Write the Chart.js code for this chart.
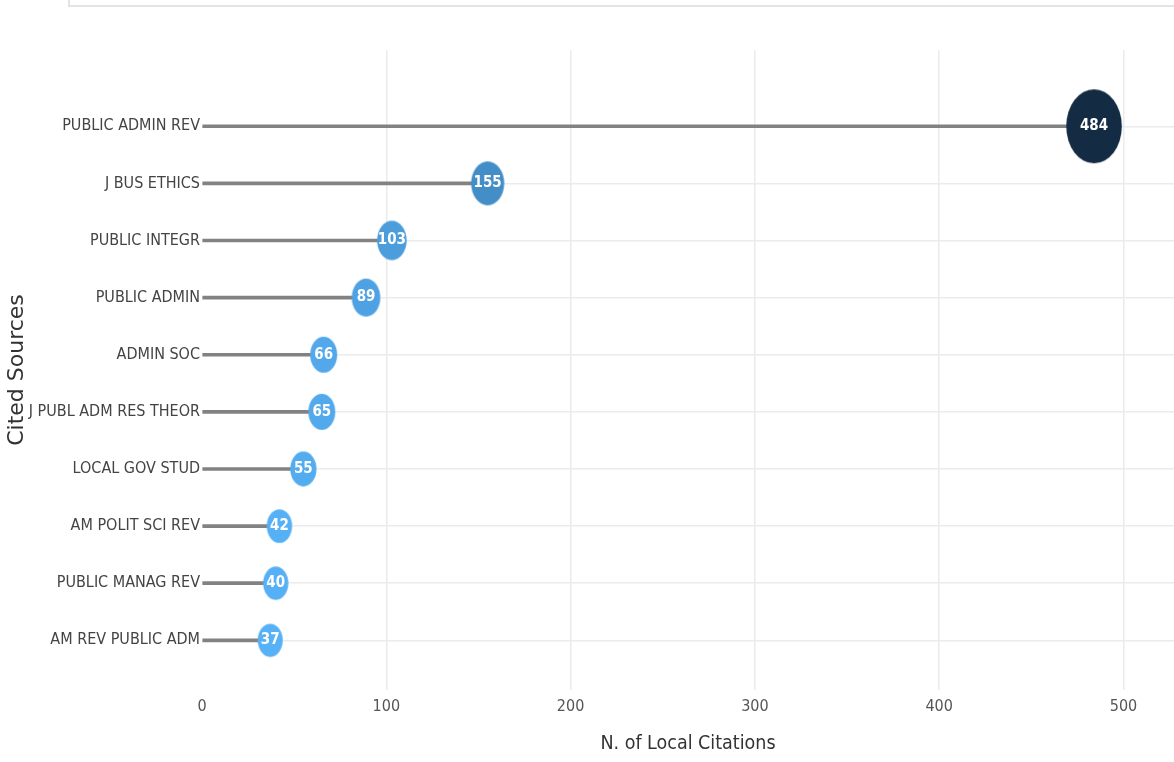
<!DOCTYPE html>
<html lang="en">
<head>
    <meta charset="UTF-8" />
    <title>Most Local Cited Sources</title>
    <script src="https://cdn.jsdelivr.net/npm/chart.js"></script>
    <style>
        html, body { margin: 0; padding: 0; background: #fff; overflow: hidden; }
        .topbox { position: absolute; left: 68px; top: -10px; width: 1200px; height: 13px; border: 2px solid #e4e4e4; }
        .wrap { position: absolute; left: 0; top: 0; width: 1174px; height: 762px; }
    </style>
</head>
<body>
    <div class="topbox"></div>
    <div class="wrap"><canvas id="citesChart"></canvas></div>

    <script>
        // data
        const sources = ['PUBLIC ADMIN REV', 'J BUS ETHICS', 'PUBLIC INTEGR', 'PUBLIC ADMIN', 'ADMIN SOC',
                         'J PUBL ADM RES THEOR', 'LOCAL GOV STUD', 'AM POLIT SCI REV', 'PUBLIC MANAG REV', 'AM REV PUBLIC ADM'];
        const citations = [484, 155, 103, 89, 66, 65, 55, 42, 40, 37];
        const xTickValues = [0, 100, 200, 300, 400, 500];

        const narrow = "'Liberation Sans Narrow', 'DejaVu Sans Condensed', 'Arial Narrow', sans-serif";

        const vMin = Math.min(...citations), vMax = Math.max(...citations);

        // light blue (low) -> dark navy (high)
        function shade(v) {
            const t = (v - vMin) / (vMax - vMin);
            const lo = [86, 177, 247], hi = [19, 43, 67];
            const c = lo.map((a, k) => Math.round(a + (hi[k] - a) * t));
            return 'rgb(' + c.join(',') + ')';
        }

        // ellipse markers, growing with the value
        function ellipse(v) {
            const rx = 12.5 + 0.0342 * (v - vMin);
            const ry = rx * 1.33;
            const c = document.createElement('canvas');
            c.width = Math.ceil(rx * 2) + 2;
            c.height = Math.ceil(ry * 2) + 2;
            const g = c.getContext('2d');
            g.fillStyle = shade(v);
            g.beginPath();
            g.ellipse(c.width / 2, c.height / 2, rx, ry, 0, 0, Math.PI * 2);
            g.fill();
            return c;
        }

        const points = citations.map((v, i) => ({ x: v, y: i }));

        // white value inside each marker
        const valueLabels = {
            id: 'valueLabels',
            afterDatasetsDraw(chart) {
                const ctx = chart.ctx;
                const meta = chart.getDatasetMeta(0);
                ctx.save();
                ctx.fillStyle = '#ffffff';
                ctx.font = 'bold 15px ' + narrow;
                ctx.textAlign = 'center';
                ctx.textBaseline = 'middle';
                meta.data.forEach((pt, i) => ctx.fillText(String(citations[i]), pt.x, pt.y));
                ctx.restore();
            }
        };

        function noPad(scale) {
            scale.paddingLeft = 0;
            scale.paddingRight = 0;
            scale.paddingTop = 0;
            scale.paddingBottom = 0;
        }

        new Chart(document.getElementById('citesChart'), {
            type: 'scatter',
            data: {
                datasets: [{
                    data: points,
                    pointStyle: citations.map(ellipse),
                    order: 0
                }, {
                    type: 'bar',
                    indexAxis: 'y',
                    data: points,
                    backgroundColor: '#828282',
                    barThickness: 3,
                    order: 1
                }]
            },
            options: {
                responsive: true,
                maintainAspectRatio: false,
                animation: false,
                layout: { autoPadding: false, padding: { top: 50, right: 0, left: 0, bottom: 0 } },
                plugins: { legend: { display: false }, tooltip: { enabled: false } },
                scales: {
                    x: {
                        type: 'linear',
                        offset: false,
                        min: 0,
                        max: 527.4,
                        afterBuildTicks: axis => { axis.ticks = xTickValues.map(v => ({ value: v })); },
                        afterFit: scale => { scale.height = 72; noPad(scale); },
                        border: { display: false },
                        grid: {
                            offset: false,
                            color: ctx => (ctx.tick && ctx.tick.value === 0) ? 'rgba(0,0,0,0)' : '#ebebeb',
                            lineWidth: 1.5,
                            drawTicks: false
                        },
                        ticks: { color: '#555', padding: 7, font: { family: narrow, size: 16 } },
                        title: {
                            display: true,
                            text: 'N. of Local Citations',
                            color: '#333',
                            font: { family: narrow, size: 19.5 },
                            padding: { top: 0, bottom: 6 }
                        }
                    },
                    y: {
                        type: 'linear',
                        offset: false,
                        reverse: true,
                        min: -1.335,
                        max: 9.87,
                        afterBuildTicks: axis => { axis.ticks = sources.map((s, i) => ({ value: i })); },
                        afterFit: scale => { scale.width = 202; noPad(scale); },
                        border: { display: false },
                        grid: { offset: false, color: '#ebebeb', lineWidth: 1.5, drawTicks: false },
                        ticks: {
                            color: '#444',
                            padding: 2,
                            font: { family: narrow, size: 16 },
                            callback: v => sources[v]
                        },
                        title: {
                            display: true,
                            text: 'Cited Sources',
                            color: '#333',
                            font: { family: "'DejaVu Sans', sans-serif", size: 22 },
                            padding: { top: 4, bottom: 0 }
                        }
                    }
                }
            },
            plugins: [valueLabels]
        });
    </script>
</body>
</html>
